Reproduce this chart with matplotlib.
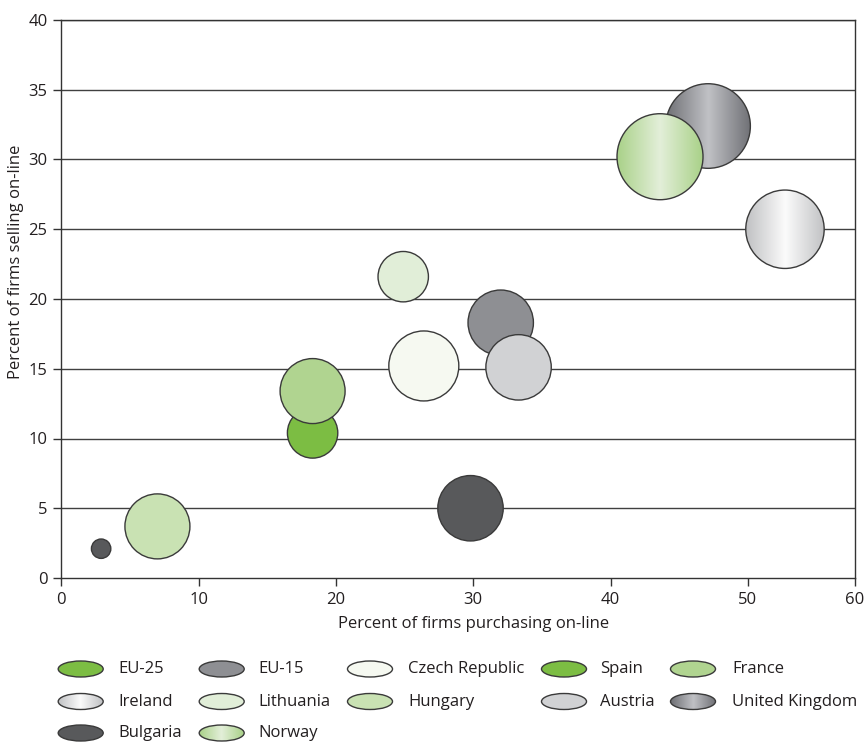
import matplotlib
matplotlib.use('Agg')
import matplotlib.pyplot as plt
from matplotlib.patches import Circle, Ellipse
from matplotlib.transforms import ScaledTranslation
from matplotlib.colors import LinearSegmentedColormap
import numpy as np

plt.rcParams['font.family'] = ['Open Sans', 'DejaVu Sans']

# bubbles, in drawing order (later ones sit on top)
X_PURCHASE = [2.9, 7.0, 18.3, 18.3, 24.9, 26.4, 32.0, 33.3, 29.8, 47.1, 43.6, 52.7]
Y_SELLING = [2.1, 3.7, 10.4, 13.4, 21.6, 15.2, 18.3, 15.1, 5.0, 32.4, 30.2, 25.0]
BUBBLE_R = [9.7, 32.5, 25.2, 32.5, 25.2, 35.0, 32.7, 32.7, 32.7, 42.3, 43.0, 39.2]
BUBBLE_FILL = ['#58595b', '#c9e2b3', '#7cbd43', '#b0d490', '#e1eed8', '#f6f9f1',
               '#8e8f93', '#d1d2d4', '#58595b',
               ('#6f7075', '#c0c1c5'), ('#a9d188', '#e3efd9'), ('#c0c1c3', '#fbfbfb')]

# legend, row by row
LEGEND_LABELS = [['EU-25', 'EU-15', 'Czech Republic', 'Spain', 'France'],
                 ['Ireland', 'Lithuania', 'Hungary', 'Austria', 'United Kingdom'],
                 ['Bulgaria', 'Norway']]
LEGEND_FILL = [['#7cbd43', '#8e8f93', '#f6f9f1', '#7cbd43', '#b0d490'],
               [('#c0c1c3', '#fbfbfb'), '#e1eed8', '#c9e2b3', '#d1d2d4', ('#6f7075', '#c0c1c5')],
               ['#58595b', ('#a9d188', '#e3efd9')]]

X_MAX = 57.8  # the printed axis ends short of 60
X_TICKS = [0, 10, 20, 30, 40, 50, X_MAX]
X_TICKLABELS = ['0', '10', '20', '30', '40', '50', '60']
Y_TICKS = [0, 5, 10, 15, 20, 25, 30, 35, 40]

EDGE = '#3a3a3a'
TXT = '#231f20'
FS = 12
W, H = 865, 744


def grad_cmap(fill):
    edge, mid = fill
    return LinearSegmentedColormap.from_list('g', [edge, mid, edge])


fig = plt.figure(figsize=(W / 100, H / 100), dpi=100)
ax = fig.add_axes([61.3 / W, 1 - 578 / H, (855 - 61.3) / W, (578 - 20) / H])
ax.set_autoscale_on(False)
ax.set_xlim(0, X_MAX)
ax.set_ylim(0, 40)

for y in Y_TICKS[1:]:
    ax.axhline(y, color='#404040', lw=1.0, zorder=1)

grad = np.linspace(0, 1, 256).reshape(1, -1)
for i, (x, y, r, fill) in enumerate(zip(X_PURCHASE, Y_SELLING, BUBBLE_R, BUBBLE_FILL)):
    tr = fig.dpi_scale_trans + ScaledTranslation(x, y, ax.transData)
    rin = r / 100
    z = 3 + i
    if isinstance(fill, tuple):
        circ = Circle((0, 0), rin, transform=tr, facecolor='none',
                      edgecolor=EDGE, lw=1.0, zorder=z + 0.5)
        ax.add_patch(circ)
        im = ax.imshow(grad, cmap=grad_cmap(fill), extent=(-rin, rin, -rin, rin),
                       transform=tr, aspect='auto', interpolation='bilinear', zorder=z)
        im.set_clip_path(circ)
    else:
        ax.add_patch(Circle((0, 0), rin, transform=tr, facecolor=fill,
                            edgecolor=EDGE, lw=1.0, zorder=z))

ax.set_xlim(0, X_MAX)
ax.set_ylim(0, 40)
ax.set_xticks(X_TICKS)
ax.set_xticklabels(X_TICKLABELS)
ax.set_yticks(Y_TICKS)
ax.tick_params(direction='out', length=6, width=1, color='#333333',
               labelsize=FS, labelcolor=TXT, pad=4)
for s in ax.spines.values():
    s.set_color('#333333')
    s.set_linewidth(1.0)

ax.set_xlabel('Percent of firms purchasing on-line', fontsize=FS, color=TXT)
ax.xaxis.set_label_coords(30 / X_MAX, -0.068)
ax.set_ylabel('Percent of firms selling on-line', fontsize=FS, color=TXT)
ax.yaxis.set_label_coords(-0.047, (578 - 262) / 558)

# hand-built legend in pixel coordinates
lax = fig.add_axes([0, 0, 1, 110 / H])
lax.set_xlim(0, W)
lax.set_ylim(H, H - 110)
lax.axis('off')
col_ell = [80.7, 221.7, 370, 564, 693]
col_txt = [118, 258, 408, 600, 732]
row_y = [669, 701.5, 733]
ew, eh = 45, 16
for ri, (labels, fills) in enumerate(zip(LEGEND_LABELS, LEGEND_FILL)):
    for ci, (lab, fill) in enumerate(zip(labels, fills)):
        cx, cy = col_ell[ci], row_y[ri]
        if isinstance(fill, tuple):
            ell = Ellipse((cx, cy), ew, eh, facecolor='none', edgecolor=EDGE, lw=1.0, zorder=3)
            lax.add_patch(ell)
            im = lax.imshow(grad, cmap=grad_cmap(fill),
                            extent=(cx - ew / 2, cx + ew / 2, cy + eh / 2, cy - eh / 2),
                            aspect='auto', interpolation='bilinear', zorder=2)
            im.set_clip_path(ell)
        else:
            lax.add_patch(Ellipse((cx, cy), ew, eh, facecolor=fill, edgecolor=EDGE, lw=1.0))
        lax.text(col_txt[ci], cy, lab, fontsize=FS, color=TXT, va='center', ha='left')
lax.set_xlim(0, W)
lax.set_ylim(H, H - 110)

fig.savefig('out.png', dpi=100)
